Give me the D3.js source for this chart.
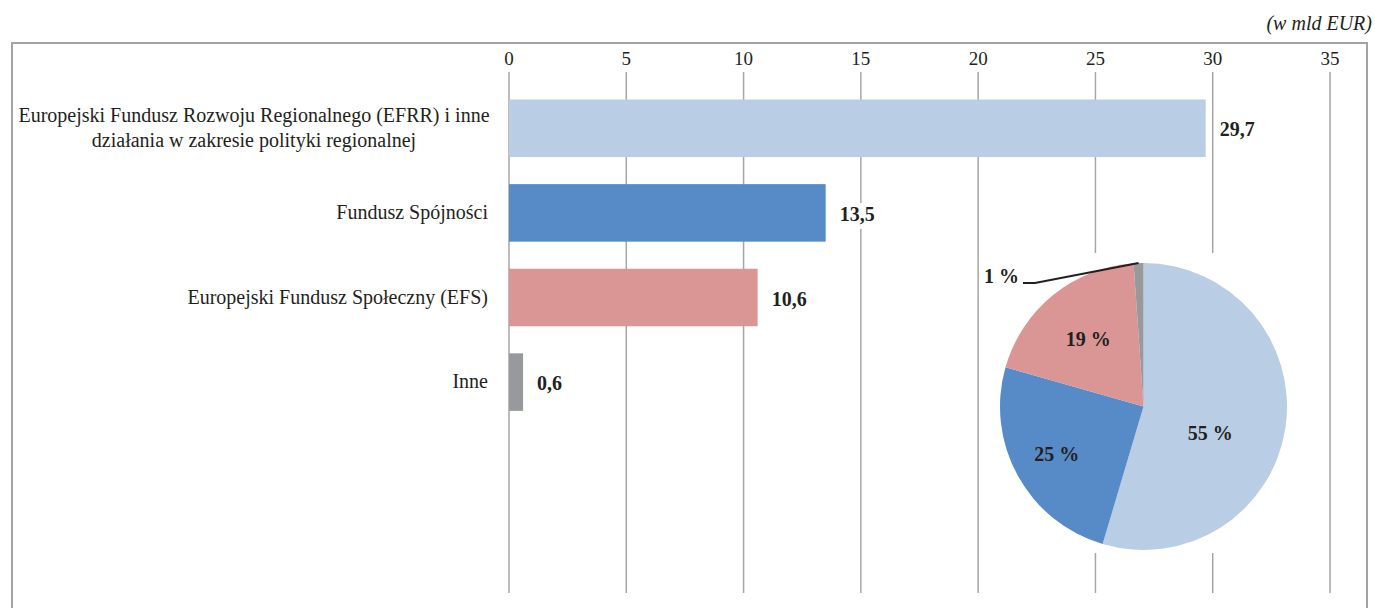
<!DOCTYPE html>
<html><head><meta charset="utf-8">
<script src="https://cdn.jsdelivr.net/npm/d3@7/dist/d3.min.js"></script>
<style>
body{margin:0;background:#fff;}
text{font-family:"Liberation Serif","DejaVu Serif",serif;fill:#231f20;}
</style></head>
<body><svg id="c" width="1375" height="608"></svg>
<script>
const categories = [["Europejski Fundusz Rozwoju Regionalnego (EFRR) i inne","działania w zakresie polityki regionalnej"],["Fundusz Spójności"],["Europejski Fundusz Społeczny (EFS)"],["Inne"]];
const values = [29.7, 13.5, 10.6, 0.6];
const valueLabels = ["29,7","13,5","10,6","0,6"];
const pieLabels = ["55 %","25 %","19 %","1 %"];
const ticks = [0,5,10,15,20,25,30,35];
const colors = ["#b9cde5","#568bc8","#d99694","#97999c"];
const unit = "(w mld EUR)";

// layout for inside pie labels (radius fraction, angle shift in radians)
const pieLabelLayout = [[0.5, 0.23],[0.69, 0],[0.61, 0]];

const svg = d3.select("#c");
svg.append("rect").attr("x",12).attr("y",43).attr("width",1355).attr("height",600)
  .attr("fill","none").attr("stroke","#a3a3a3").attr("stroke-width",2);
svg.append("text").attr("x",1372).attr("y",30).attr("text-anchor","end")
  .style("font-style","italic").style("font-size","20px").text(unit);

const x = d3.scaleLinear().domain([0,35]).range([509,1330]);
const idx = categories.map((d,i)=>i);
const y = d3.scaleBand().domain(idx).range([86, 86+4*84.6]).paddingInner(0.32).paddingOuter(0.16);

const gTop = 72, gBot = 593;
svg.append("g").selectAll("line").data(ticks).join("line")
  .attr("x1",d=>x(d)).attr("x2",d=>x(d)).attr("y1",gTop).attr("y2",gBot)
  .attr("stroke","#a6a6a6").attr("stroke-width",1.5);
svg.append("g").selectAll("text").data(ticks).join("text")
  .attr("x",d=>x(d)).attr("y",65).attr("text-anchor","middle").style("font-size","19px").text(d=>d);

svg.append("g").selectAll("rect").data(values).join("rect")
  .attr("x",x(0)).attr("y",(d,i)=>y(i)).attr("width",d=>x(d)-x(0)).attr("height",y.bandwidth())
  .attr("fill",(d,i)=>colors[i]);

const cl = svg.append("g").selectAll("text").data(categories).join("text")
  .attr("text-anchor",d=>d.length>1?"middle":"end").style("font-size","20px")
  .attr("y",(d,i)=>y(i)+y.bandwidth()/2 + 6 - (d.length-1)*12.5);
cl.each(function(d){
  d3.select(this).selectAll("tspan").data(d).join("tspan")
   .attr("x", d.length>1 ? 254 : 488).attr("dy",(t,j)=>j?25:0).text(t=>t);
});

const vl = svg.append("g").selectAll("g").data(values).join("g")
  .attr("transform",(d,i)=>`translate(${x(d)+14},${y(i)+y.bandwidth()/2+8})`);
vl.append("rect").attr("x",-4).attr("y",-18).attr("width",50).attr("height",26).attr("fill","#fff");
vl.append("text").style("font-size","20px").style("font-weight","bold").text((d,i)=>valueLabels[i]);

svg.append("rect").attr("x",981).attr("y",253).attr("width",330).attr("height",300).attr("fill","#fff");
const cx=1143.5, cy=406.5, r=143.5;
const pie = d3.pie().sort(null).value(d=>d)(values);
const arc = d3.arc().innerRadius(0).outerRadius(r);
const pg = svg.append("g").attr("transform",`translate(${cx},${cy})`);
pg.selectAll("path").data(pie).join("path").attr("d",arc).attr("fill",(d,i)=>colors[i]);
pg.selectAll("text").data(pie.slice(0,3)).join("text")
  .attr("transform",(d,i)=>{
    const a=(d.startAngle+d.endAngle)/2 + pieLabelLayout[i][1];
    const rr=r*pieLabelLayout[i][0];
    return `translate(${Math.sin(a)*rr},${-Math.cos(a)*rr+7})`;})
  .attr("text-anchor","middle").style("font-size","20px").style("font-weight","bold")
  .text((d,i)=>pieLabels[i]);
const s = pie[3];
const mid = (s.startAngle+s.endAngle)/2;
const px = Math.sin(mid)*r, py = -Math.cos(mid)*r;
pg.append("polyline").attr("points",`${px},${py} ${1035-cx},${283-cy} ${1023-cx},${283-cy}`)
  .attr("fill","none").attr("stroke","#231f20").attr("stroke-width",2);
pg.append("text").attr("x",1019-cx).attr("y",283-cy).attr("text-anchor","end")
  .style("font-size","20px").style("font-weight","bold").text(pieLabels[3]);
</script></body></html>
